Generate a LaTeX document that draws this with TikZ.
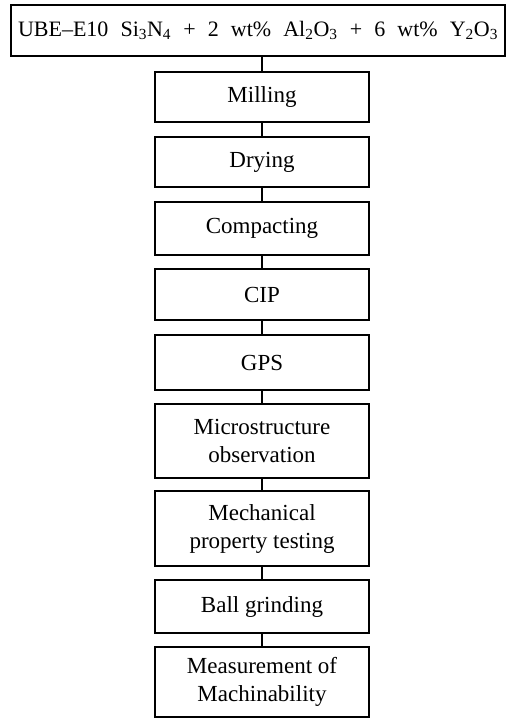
\documentclass[tikz,border=0pt]{standalone}
\usepackage{fontspec}
\setmainfont{Liberation Serif}
\begin{document}
\begin{tikzpicture}[x=1pt,y=-1pt,
  box/.style={draw, line width=1.1pt, minimum width=214pt, align=center, inner sep=0pt,
    font=\fontsize{23}{28}\selectfont},
  conn/.style={line width=1.1pt}]
\useasboundingbox (0,0) rectangle (511,720);
\node[draw, line width=1.1pt, minimum width=494pt, minimum height=51pt, inner sep=0pt,
  font=\fontsize{22}{26}\selectfont] (top) at (258,30.5)
  {\makebox[480pt][s]{UBE--E10 Si\textsubscript{3}N\textsubscript{4} + 2 wt\% Al\textsubscript{2}O\textsubscript{3} + 6 wt\% Y\textsubscript{2}O\textsubscript{3}}};
\node[box, minimum height=50pt] (b1) at (262,97) {Milling};
\node[box, minimum height=50pt] (b2) at (262,162) {Drying};
\node[box, minimum height=53pt] (b3) at (262,228.5) {Compacting};
\node[box, minimum height=51pt] (b4) at (262,294.5) {CIP};
\node[box, minimum height=55pt] (b5) at (262,362.5) {GPS};
\node[box, minimum height=74pt] (b6) at (262,441) {Microstructure\\observation};
\node[box, minimum height=75pt] (b7) at (262,528.5) {Mechanical\\property testing};
\node[box, minimum height=53pt] (b8) at (262,606.5) {Ball grinding};
\node[box, minimum height=70pt] (b9) at (262,682) {Measurement of\\Machinability};
\draw[conn] (top.south -| b1.north) -- (b1.north);
\foreach \a/\b in {b1/b2,b2/b3,b3/b4,b4/b5,b5/b6,b6/b7,b7/b8,b8/b9}
  \draw[conn] (\a.south) -- (\b.north);
\end{tikzpicture}
\end{document}
